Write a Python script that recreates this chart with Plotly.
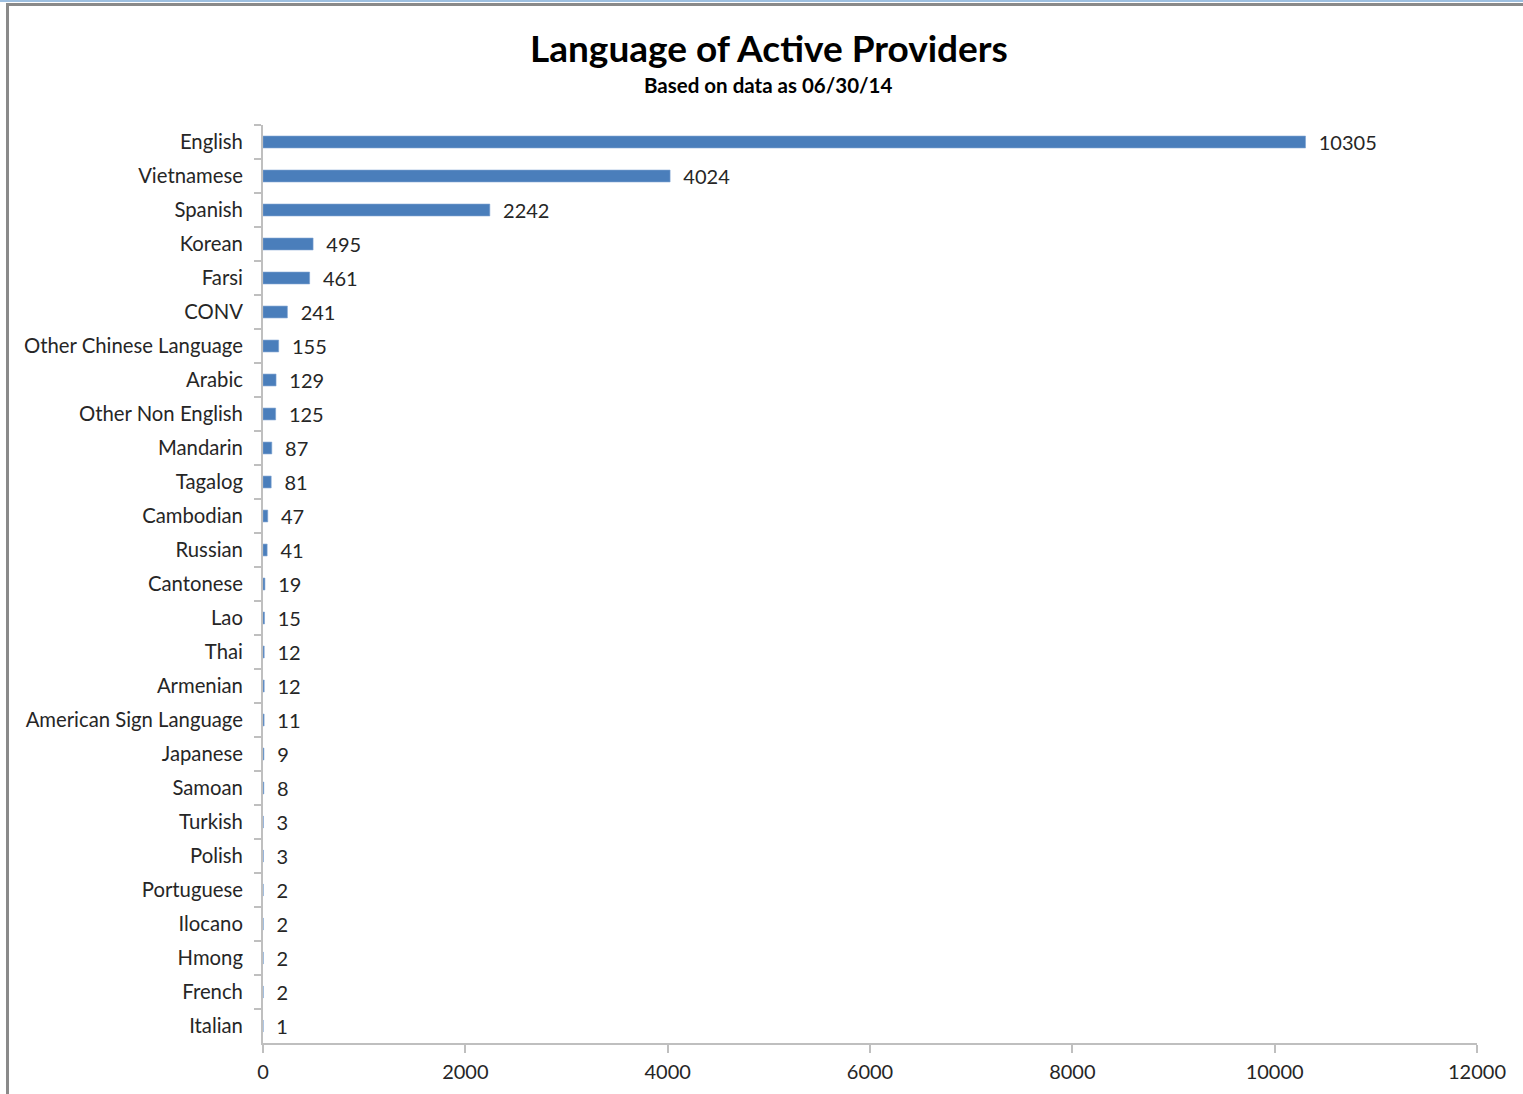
import plotly.graph_objects as go

# Provider counts by language (as of 06/30/14)
languages = [
    "English", "Vietnamese", "Spanish", "Korean", "Farsi", "CONV",
    "Other Chinese Language", "Arabic", "Other Non English", "Mandarin",
    "Tagalog", "Cambodian", "Russian", "Cantonese", "Lao", "Thai",
    "Armenian", "American Sign Language", "Japanese", "Samoan", "Turkish",
    "Polish", "Portuguese", "Ilocano", "Hmong", "French", "Italian",
]
providers = [
    10305, 4024, 2242, 495, 461, 241,
    155, 129, 125, 87,
    81, 47, 41, 19, 15, 12,
    12, 11, 9, 8, 3,
    3, 2, 2, 2, 2, 1,
]
x_ticks = [0, 2000, 4000, 6000, 8000, 10000, 12000]

W, H = 1523, 1094
L, R, T, B = 263, 1477, 125, 1043
FONT = "Lato"
TEXT = "#262626"
AXIS = "#bfbfbf"


def px(x):
    return (x - L) / (R - L)


def py(y):
    return (B - y) / (B - T)


fig = go.Figure(
    go.Bar(
        x=providers,
        y=languages,
        orientation="h",
        marker=dict(color="#4a7ebb", line=dict(color="#7ea3d1", width=0.6)),
        text=[str(v) for v in providers],
        texttemplate="  %{text}",
        textposition="outside",
        constraintext="none",
        cliponaxis=False,
        textfont=dict(family=FONT, size=20, color=TEXT),
        hoverinfo="x+y",
    )
)

# window-style frame along the top and left edges
shapes = [
    dict(type="rect", xref="paper", yref="paper",
         x0=px(0), x1=px(W), y0=py(0), y1=py(2),
         fillcolor="#9dbfe0", line=dict(width=0), layer="above"),
    dict(type="rect", xref="paper", yref="paper",
         x0=px(6), x1=px(W), y0=py(3), y1=py(6),
         fillcolor="#8a8a8a", line=dict(width=0), layer="above"),
    dict(type="rect", xref="paper", yref="paper",
         x0=px(6), x1=px(9), y0=py(3), y1=py(H),
         fillcolor="#8a8a8a", line=dict(width=0), layer="above"),
]

fig.update_layout(
    width=W,
    height=H,
    margin=dict(l=L, r=W - R, t=T, b=H - B, pad=0),
    paper_bgcolor="white",
    plot_bgcolor="white",
    showlegend=False,
    bargap=0.65,
    font=dict(family=FONT, size=20, color=TEXT),
    shapes=shapes,
    annotations=[
        dict(text="<b>Language of Active Providers</b>", xref="paper", yref="paper",
             x=px(769), y=py(48), xanchor="center", yanchor="middle", showarrow=False,
             font=dict(family=FONT, size=37, color="#000000")),
        dict(text="<b>Based on data as 06/30/14</b>", xref="paper", yref="paper",
             x=px(768), y=py(85), xanchor="center", yanchor="middle", showarrow=False,
             font=dict(family=FONT, size=20.5, color="#000000")),
    ],
    xaxis=dict(
        range=[0, 12000],
        tickvals=x_ticks,
        ticktext=[str(v) for v in x_ticks],
        showgrid=False,
        zeroline=False,
        showline=True,
        linecolor=AXIS,
        linewidth=2,
        ticks="outside",
        ticklen=8,
        tickcolor=AXIS,
        tickwidth=2,
        ticklabelstandoff=2,
        tickfont=dict(family=FONT, size=20, color=TEXT),
        fixedrange=True,
    ),
    yaxis=dict(
        autorange="reversed",
        showgrid=False,
        zeroline=False,
        showline=True,
        linecolor=AXIS,
        linewidth=2,
        ticks="outside",
        tickson="boundaries",
        ticklen=7,
        tickcolor=AXIS,
        tickwidth=2,
        ticklabelstandoff=14,
        tickfont=dict(family=FONT, size=20.3, color=TEXT),
        fixedrange=True,
    ),
)

fig.write_html("out.html")
